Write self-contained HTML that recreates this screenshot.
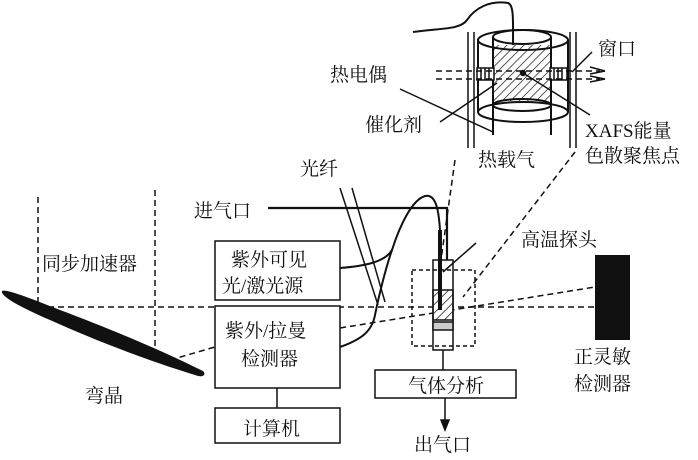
<!DOCTYPE html>
<html><head><meta charset="utf-8"><style>
html,body{margin:0;padding:0;background:#fff;}
svg{display:block;}
text{font-family:"Liberation Serif","Noto Serif CJK SC","Noto Sans CJK SC",serif;font-size:19px;fill:#111;}
</style></head><body>
<svg width="698" height="460" viewBox="0 0 698 460" xmlns="http://www.w3.org/2000/svg">
<defs>
<pattern id="h" width="6" height="6" patternUnits="userSpaceOnUse" patternTransform="rotate(45)">
<line x1="0" y1="0" x2="0" y2="6" stroke="#111" stroke-width="1.4"/></pattern>
</defs>
<g fill="none" stroke="#111" stroke-width="1.5">
<line x1="468" y1="32" x2="468" y2="148"/><line x1="474" y1="32" x2="474" y2="148"/>
<line x1="570" y1="32" x2="570" y2="148"/><line x1="576" y1="32" x2="576" y2="148"/>
<ellipse cx="523" cy="40" rx="45" ry="10" stroke-width="2"/>
<path d="M478 40 V112 M568 40 V112" stroke-width="2"/>
<ellipse cx="523" cy="112" rx="45" ry="10" stroke-width="2"/>
<rect x="493" y="45" width="58" height="56" fill="url(#h)" stroke="none"/>
<ellipse cx="522" cy="37" rx="29" ry="7" fill="#fff" stroke-width="2"/>
<path d="M493 37 V135 M551 37 V135" stroke-width="2"/>
<ellipse cx="522" cy="105" rx="29" ry="6" stroke-width="2"/>
<rect x="477" y="68" width="17" height="12" fill="#fff"/>
<path d="M481 68v12M485 68v12M489 68v12"/>
<rect x="550" y="68" width="17" height="12" fill="#fff"/>
<path d="M554 68v12M558 68v12M562 68v12"/>
<path d="M413 32 C440 28 460 30 467 20 C475 8 490 0 508 3 C514 5 513 20 513 45" stroke-width="2"/>
<path d="M436 71 H600 M436 79 H600" stroke-dasharray="6,4"/>
<path d="M590 67 L605 71 L590 74 M590 76 L605 79 L590 82"/>
<circle cx="523" cy="73" r="2.5" fill="#111"/>
<line x1="400" y1="89" x2="493" y2="132"/>
<line x1="440" y1="122" x2="497" y2="83"/>
<line x1="523" y1="73" x2="590" y2="115"/>
<line x1="572" y1="72" x2="592" y2="52"/>
<path d="M455 160 L441 260" stroke-dasharray="6,4"/>
<path d="M575 152 L463 297" stroke-dasharray="6,4"/>
<path d="M38 197 V307 M155 190 V355" stroke-dasharray="6,4"/>
<path d="M38 307 H595" stroke-dasharray="6,4"/>
<path d="M170 360 L215 347" stroke-dasharray="6,4"/>
<path d="M340 328 L595 287" stroke-dasharray="6,4"/>
<rect x="215" y="241" width="125" height="59" fill="#fff"/>
<rect x="215" y="306" width="125" height="82" fill="#fff"/>
<rect x="215" y="408" width="125" height="35"/>
<line x1="277" y1="388" x2="277" y2="408"/>
<rect x="375" y="370" width="141" height="28"/>
<line x1="443" y1="350" x2="443" y2="370"/>
<line x1="445" y1="398" x2="445" y2="428"/>
<path d="M441 420 L445 430 L449 420Z" fill="#111"/>
<line x1="340" y1="188" x2="378" y2="305"/>
<line x1="352" y1="188" x2="385" y2="302"/>
<path d="M340 268 C365 266 385 262 392 250 C400 225 412 200 425 196 C437 193 439 215 440 230" stroke-width="2"/>
<path d="M340 347 C360 340 372 332 375 315 C378 300 385 270 392 250" stroke-width="2"/>
<path d="M268 208 H447 V260" stroke-width="2.2"/>
<rect x="433" y="260" width="20" height="90" fill="#fff"/>
<rect x="433" y="290" width="20" height="30" fill="url(#h)"/>
<rect x="433" y="322" width="20" height="8" fill="#ccc"/>
<line x1="440" y1="230" x2="440" y2="310" stroke-width="4"/>
<line x1="476" y1="243" x2="443" y2="272"/>
<rect x="412" y="270" width="63" height="76" stroke-dasharray="4,3"/>
</g>
<rect x="595" y="255" width="35" height="85" fill="#111"/>
<path d="M2 291 C5 289 20 294 60 310 C100 325 150 345 203 371 C207 375 202 378 195 375 C140 358 90 338 50 320 C20 307 0 296 2 291Z" fill="#111"/>
<text x="330" y="81">热电偶</text>
<text x="365" y="131">催化剂</text>
<text x="598" y="55">窗口</text>
<text x="585" y="137">XAFS能量</text>
<text x="585" y="162">色散聚焦点</text>
<text x="478" y="166">热载气</text>
<text x="300" y="175">光纤</text>
<text x="194" y="217">进气口</text>
<text x="42" y="270">同步加速器</text>
<text x="231" y="266">紫外可见</text>
<text x="222" y="292">光/激光源</text>
<text x="225" y="337">紫外/拉曼</text>
<text x="241" y="365">检测器</text>
<text x="243" y="435">计算机</text>
<text x="85" y="402">弯晶</text>
<text x="521" y="246">高温探头</text>
<text x="574" y="363">正灵敏</text>
<text x="574" y="390">检测器</text>
<text x="408" y="392">气体分析</text>
<text x="414" y="451">出气口</text>
</svg>
</body></html>
